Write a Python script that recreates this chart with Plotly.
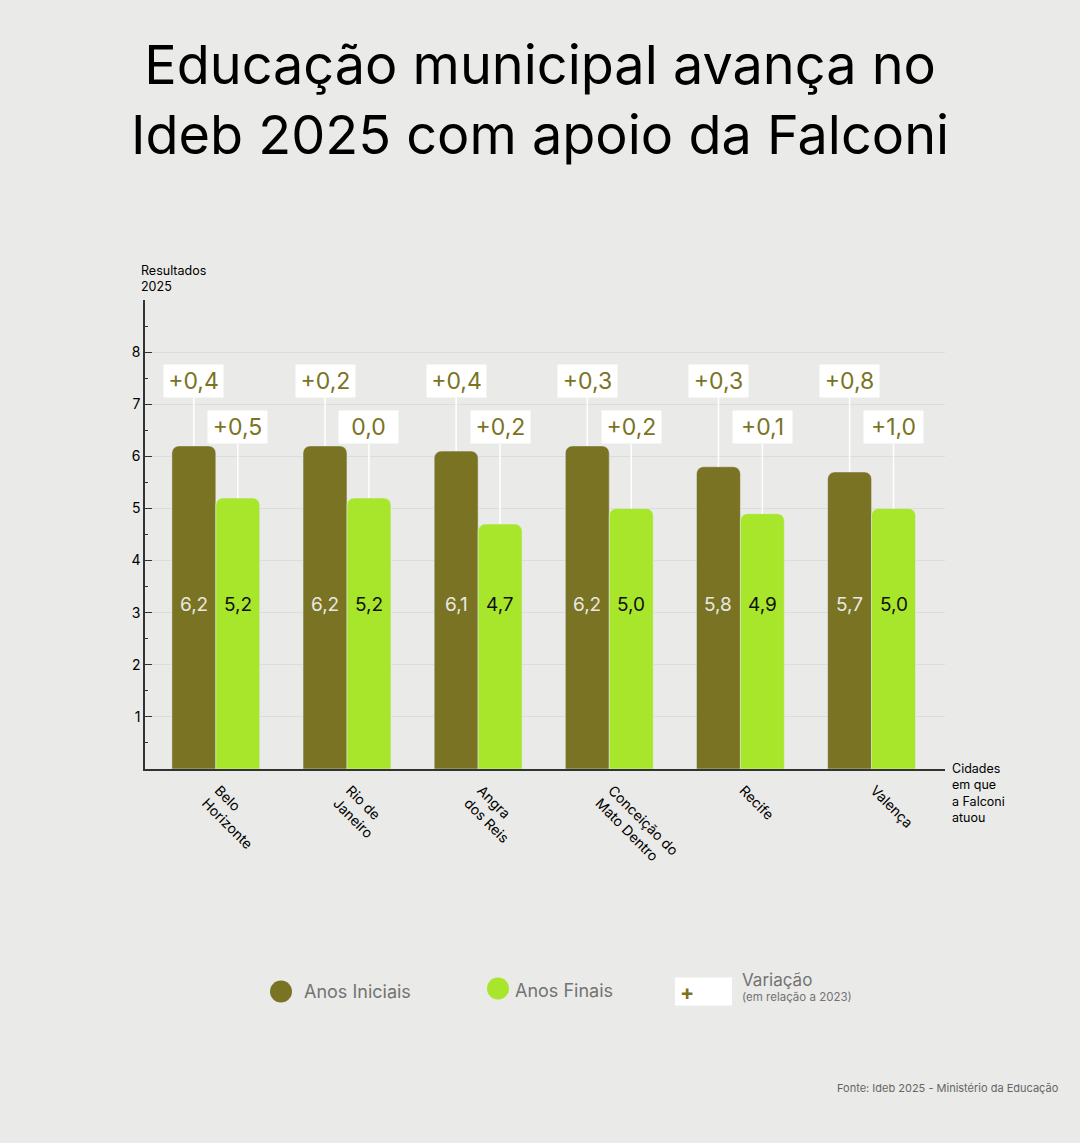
import plotly.graph_objects as go

# dados
cidades = ["Belo<br>Horizonte", "Rio de<br>Janeiro", "Angra<br>dos Reis",
           "Conceição do<br>Mato Dentro", "Recife", "Valença"]
anos_iniciais = [6.2, 6.2, 6.1, 6.2, 5.8, 5.7]
anos_finais = [5.2, 5.2, 4.7, 5.0, 4.9, 5.0]
var_iniciais = ["+0,4", "+0,2", "+0,4", "+0,3", "+0,3", "+0,8"]
var_finais = ["+0,5", "0,0", "+0,2", "+0,2", "+0,1", "+1,0"]

OLIVA = "#7a7323"
LIMA = "#a8e62c"
FUNDO = "#eaeae8"
CINZA = "#737373"
FONTE = "Inter"

# geometria do grafico (px) so para converter posicoes do layout
L, R, T, B = 145, 945, 300, 768.7
W, H = 1080, 1143


def px(x):
    return (x - L) / (R - L)


def py(y):
    return (B - y) / (B - T)


idx = list(range(len(cidades)))
fig = go.Figure()
fig.add_trace(go.Bar(x=idx, y=anos_iniciais, marker=dict(color=OLIVA, cornerradius=7),
                     name="Anos Iniciais", showlegend=False, hoverinfo="y"))
fig.add_trace(go.Bar(x=idx, y=anos_finais, marker=dict(color=LIMA, cornerradius=7),
                     name="Anos Finais", showlegend=False, hoverinfo="y"))

ann = []
off = (1 - 0.33) / 4
for i in idx:
    # valores dentro das barras
    ann.append(dict(x=i - off, y=3.15, text=f"{anos_iniciais[i]:.1f}".replace(".", ","),
                    showarrow=False, font=dict(size=19, color="#e8e8e2", family=FONTE)))
    ann.append(dict(x=i + off, y=3.15, text=f"{anos_finais[i]:.1f}".replace(".", ","),
                    showarrow=False, font=dict(size=19, color="#111111", family=FONTE)))
    # caixas de variacao
    for dx, yv, lab, v in [(-off, 7.45, var_iniciais[i], anos_iniciais[i]),
                           (off, 6.56, var_finais[i], anos_finais[i])]:
        ann.append(dict(x=i + dx, y=v, ax=i + dx, ay=yv, axref="x", ayref="y",
                        text=lab, showarrow=True, arrowhead=0, arrowwidth=1.5,
                        arrowcolor="white", standoff=0, startstandoff=0,
                        bgcolor="white", borderpad=3, width=53, height=26,
                        font=dict(size=23, color=OLIVA, family=FONTE)))

# titulo e textos soltos
ann.append(dict(xref="paper", yref="paper", x=px(540), y=py(100), xanchor="center",
                yanchor="middle", showarrow=False,
                text="Educação municipal avança no<br>Ideb 2025 com apoio da Falconi",
                font=dict(size=54, color="black", family=FONTE)))
ann.append(dict(xref="paper", yref="paper", x=px(139), y=py(279), xanchor="left",
                yanchor="middle", align="left", showarrow=False,
                text="Resultados<br>2025", font=dict(size=12.5, color="black", family=FONTE)))
ann.append(dict(xref="paper", yref="paper", x=px(950), y=py(759), xanchor="left",
                yanchor="top", align="left", showarrow=False,
                text="Cidades<br>em que<br>a Falconi<br>atuou",
                font=dict(size=12.5, color="black", family=FONTE)))
ann.append(dict(xref="paper", yref="paper", x=px(1061), y=py(1087), xanchor="right",
                yanchor="middle", showarrow=False,
                text="Fonte: Ideb 2025 - Ministério da Educação",
                font=dict(size=11, color="#666666", family=FONTE)))

# legenda manual
ann.append(dict(xref="paper", yref="paper", x=px(302), y=py(991), xanchor="left",
                yanchor="middle", showarrow=False, text="Anos Iniciais",
                font=dict(size=18, color=CINZA, family=FONTE)))
ann.append(dict(xref="paper", yref="paper", x=px(513), y=py(990), xanchor="left",
                yanchor="middle", showarrow=False, text="Anos Finais",
                font=dict(size=18, color=CINZA, family=FONTE)))
ann.append(dict(xref="paper", yref="paper", x=px(678), y=py(992), xanchor="left",
                yanchor="middle", showarrow=False, text="<b>+</b>",
                font=dict(size=21, color=OLIVA, family=FONTE)))
ann.append(dict(xref="paper", yref="paper", x=px(740), y=py(980), xanchor="left",
                yanchor="middle", showarrow=False, text="Variação",
                font=dict(size=17, color=CINZA, family=FONTE)))
ann.append(dict(xref="paper", yref="paper", x=px(740), y=py(997), xanchor="left",
                yanchor="middle", showarrow=False, text="(em relação a 2023)",
                font=dict(size=11.5, color=CINZA, family=FONTE)))

shapes = [
    dict(type="circle", xref="paper", yref="paper", x0=px(270), x1=px(292),
         y0=py(1002), y1=py(980), fillcolor=OLIVA, line=dict(width=0)),
    dict(type="circle", xref="paper", yref="paper", x0=px(487), x1=px(509),
         y0=py(999), y1=py(977), fillcolor=LIMA, line=dict(width=0)),
    dict(type="rect", xref="paper", yref="paper", x0=px(675), x1=px(732),
         y0=py(1005), y1=py(977), fillcolor="white", line=dict(width=0)),
]

fig.update_layout(
    width=W, height=H,
    paper_bgcolor=FUNDO, plot_bgcolor=FUNDO,
    margin=dict(l=L, r=W - R, t=T, b=H - B),
    barmode="group", bargap=0.33, bargroupgap=0,
    font=dict(family=FONTE, color="black"),
    annotations=ann, shapes=shapes,
    xaxis=dict(range=[-0.54, 5.56], tickmode="array", tickvals=idx, ticktext=cidades,
               tickangle=45, tickfont=dict(size=14, color="black"), showgrid=False,
               showline=True, linecolor="#333333", linewidth=1.5, ticks="",
               ticklabelstandoff=6, ticklabelshift=3, fixedrange=True),
    yaxis=dict(range=[0, 9], tickvals=list(range(1, 10)),
               ticktext=[str(v) for v in range(1, 9)] + [""],
               tickfont=dict(size=14, color="black"), showline=True, linecolor="#333333",
               linewidth=1.5, ticks="inside", ticklen=7, tickcolor="#333333",
               ticklabelstandoff=0,
               minor=dict(ticks="inside", ticklen=3, dtick=0.5, tick0=0,
                          tickcolor="#333333", showgrid=False),
               showgrid=True, gridcolor="#dcdcda", gridwidth=1, zeroline=False,
               fixedrange=True),
)

fig.write_html("out.html", config={"displayModeBar": False},
               post_script="document.body.style.margin='0';")
